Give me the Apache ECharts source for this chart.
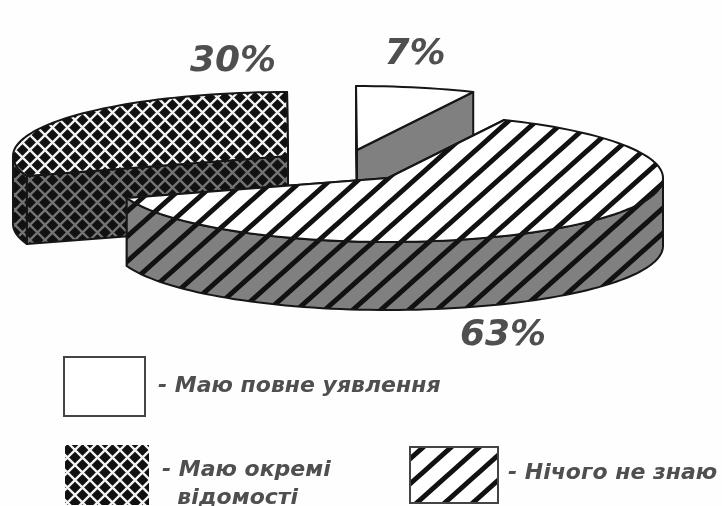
<!DOCTYPE html>
<html><head><meta charset="utf-8">
<style>html,body{margin:0;padding:0;background:#fefefe}#c{width:722px;height:506px}</style>
<script src="https://cdn.jsdelivr.net/npm/echarts@6/dist/echarts.min.js"></script>
</head><body><div id="c"></div>
<script>
// Data (counter-clockwise from the start angle, in legend order)
const categories = ['- Маю повне уявлення', '- Маю окремі\n  відомості', '- Нічого не знаю'];
const values = [7, 30, 63];

// Layout of the tilted, exploded pie
const startAngle = 65, rx = 275, ry = 64, depth = 68;
const sliceCentres = [[357, 150], [288, 156], [388, 178]];
const labelPositions = [[415, 55], [233, 62], [503, 336]];
const swatches = [[64, 357, 81, 59], [65, 445, 84, 60], [410, 447, 88, 56]];
const legendTextPos = [[158, 386], [162, 484], [508, 473]];
const ink = '#161616', textColor = '#4f4f4f', wallGrey = '#808080';
const font = '"DejaVu Sans", "Noto Sans", sans-serif';

function lattice(line) {
  const s = 15, c = document.createElement('canvas'); c.width = c.height = s;
  const g = c.getContext('2d');
  g.fillStyle = '#111'; g.fillRect(0, 0, s, s);
  g.strokeStyle = line; g.lineWidth = 2.3;
  g.beginPath(); g.moveTo(-s, -s); g.lineTo(2 * s, 2 * s); g.moveTo(2 * s, -s); g.lineTo(-s, 2 * s); g.stroke();
  return { image: c, repeat: 'repeat' };
}
function stripes(bg) {
  const w = 28, h = 25, c = document.createElement('canvas'); c.width = w; c.height = h;
  const g = c.getContext('2d');
  g.fillStyle = bg; g.fillRect(0, 0, w, h);
  g.strokeStyle = '#111'; g.lineWidth = 5;
  g.beginPath();
  for (let k = -2; k <= 2; k++) { g.moveTo(k * w - w, 2 * h); g.lineTo(k * w + 2 * w, -h); }
  g.stroke();
  return { image: c, repeat: 'repeat' };
}
const topFills = ['#ffffff', lattice('#f4f4f4'), stripes('#ffffff')];
const wallFills = [wallGrey, lattice('#747474'), stripes(wallGrey)];

function pt(c, t, dy) {
  const r = t * Math.PI / 180;
  return [c[0] + rx * Math.cos(r), c[1] - ry * Math.sin(r) + (dy || 0)];
}
function arc(c, a, b, dy) {
  const out = [], n = Math.max(2, Math.ceil(Math.abs(b - a) / 2));
  for (let i = 0; i <= n; i++) out.push(pt(c, a + (b - a) * i / n, dy));
  return out;
}
const total = values.reduce((p, v) => p + v, 0);
function sliceStart(i) {
  let s = 0; for (let k = 0; k < i; k++) s += values[k];
  return startAngle + s / total * 360;
}
const edge = { stroke: ink, lineWidth: 2, lineJoin: 'round' };

function renderSlice(params, api) {
  const i = params.dataIndex, v = api.value(0), c = sliceCentres[i];
  const a0 = sliceStart(i), a1 = a0 + v / total * 360;
  const kids = [];
  const poly = (points, fill) => kids.push({ type: 'polygon', shape: { points }, style: Object.assign({ fill }, edge) });
  // cut walls
  [a0, a1].forEach(t => {
    poly([c, pt(c, t), pt(c, t, depth), [c[0], c[1] + depth]], wallFills[i]);
  });
  // front part of the outer wall (sin < 0: 180..360 deg)
  [[180, 360], [540, 720]].forEach(r => {
    const s = Math.max(a0, r[0]), e = Math.min(a1, r[1]);
    if (e > s) poly(arc(c, s, e, 0).concat(arc(c, e, s, depth)), wallFills[i]);
  });
  // top face
  poly([c].concat(arc(c, a0, a1, 0)), topFills[i]);
  // percent label
  kids.push({ type: 'text', style: {
    text: v + '%', x: labelPositions[i][0], y: labelPositions[i][1],
    align: 'center', verticalAlign: 'middle',
    font: 'italic bold 36px ' + font, fill: textColor } });
  return { type: 'group', children: kids };
}

const legendGraphics = [];
categories.forEach((name, i) => {
  const s = swatches[i];
  legendGraphics.push({ type: 'rect', shape: { x: s[0], y: s[1], width: s[2], height: s[3] },
    style: { fill: topFills[i], stroke: i === 1 ? 'transparent' : '#444', lineWidth: 2 } });
  legendGraphics.push({ type: 'text', x: legendTextPos[i][0], y: legendTextPos[i][1],
    style: { text: name, font: 'italic bold 22px ' + font, fill: textColor,
      verticalAlign: 'middle', lineHeight: 28 } });
});

const chart = echarts.init(document.getElementById('c'), null, { renderer: 'canvas' });
chart.setOption({
  animation: false,
  backgroundColor: '#fefefe',
  graphic: legendGraphics,
  series: [{
    type: 'custom', coordinateSystem: 'none',
    data: values.map((v, i) => ({ name: categories[i], value: [v] })),
    renderItem: renderSlice
  }]
});
</script></body></html>
